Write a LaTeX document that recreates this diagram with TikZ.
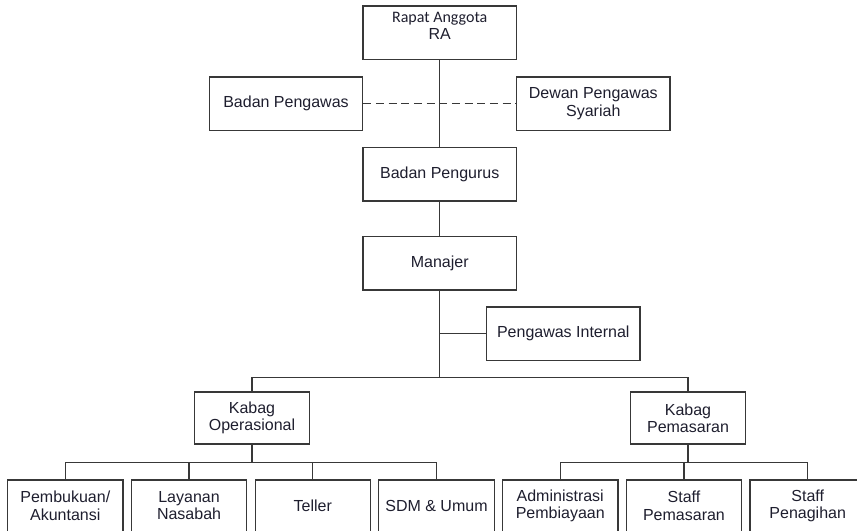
\documentclass[tikz,border=0pt]{standalone}
\usepackage{fontspec}
\setmainfont{Liberation Sans}
\newfontfamily\carlitofont{Carlito}
\usetikzlibrary{positioning}
\definecolor{linegray}{HTML}{383838}
\definecolor{textdark}{HTML}{1E1E2E}

\begin{document}
\begin{tikzpicture}[x=0.75pt,y=-0.75pt,
		box/.style={draw=linegray, line width=0.9pt, inner sep=0pt, align=center, text=textdark,
			minimum width=115pt, minimum height=40pt, font=\fontsize{12}{14}\selectfont},
		unit/.style={box, minimum width=86.5pt, minimum height=39pt},
		link/.style={draw=linegray, line width=0.9pt}]
		\useasboundingbox (0,0) rectangle (857,531);
		\clip (0,0) rectangle (857,531);
		\node[box] (ra) at (439.7,32.7) {{\carlitofont Rapat Anggota}\\[-1.5pt]RA\\[-4pt]\mbox{}};
		\node[box] (bpw) at (286,103.7) {Badan Pengawas};
		\node[box] (dps) at (593.3,103.7) {Dewan Pengawas\\[-1pt]Syariah};
		\node[box] (bpg) at (439.7,174.3) {Badan Pengurus};
		\node[box] (mgr) at (439.7,263.3) {Manajer};
		\node[box] (pi) at (563.3,333.7) {Pengawas Internal};
		\node[unit] (ko) at (252,418) {Kabag\\[-1pt]Operasional};
		\node[unit] (kp) at (688,418) {Kabag\\[-1pt]Pemasaran};
		\node[unit, minimum height=38.5pt] (pa) at (65.3,505.7) {Pembukuan/\\[-1pt]Akuntansi};
		\node[unit, minimum height=38.5pt, right=5.4pt of pa] (ln) {Layanan\\[-1pt]Nasabah};
		\node[unit, minimum height=38.5pt, right=5.4pt of ln] (tl) {Teller};
		\node[unit, minimum height=38.5pt, right=5.4pt of tl] (sdm) {SDM \& Umum};
		\node[unit, minimum height=38.5pt, right=5.4pt of sdm] (ap) {Administrasi\\[-1pt]Pembiayaan};
		\node[unit, minimum height=38.5pt, right=5.4pt of ap] (sp) {Staff\\[-1pt]Pemasaran};
		\node[unit, minimum height=38.5pt, right=5.4pt of sp] (sg) {Staff\\[-1pt]Penagihan};
		\coordinate (mainbus) at (0,377.3);
		\coordinate (opsbus) at (0,462.7);
		\draw[link, dash pattern=on 6pt off 3.5pt] (bpw.east) -- (dps.west);
		\draw[link] (ra.south) -- (bpg.north);
		\draw[link] (bpg.south) -- (mgr.north);
		\draw[link] (mgr.south) -- (mgr.south |- mainbus);
		\draw[link] (pi.west) -- (pi.west -| mgr.south);
		\draw[link] (ko.north) |- (kp.north |- mainbus) -- (kp.north);
		\draw[link] (ko.south) -- (ko.south |- opsbus);
		\draw[link] (pa.north) |- (sdm.north |- opsbus) -- (sdm.north);
		\foreach \n in {ln,tl}
			\draw[link] (\n.north) -- (\n.north |- opsbus);
		\draw[link] (kp.south) -- (kp.south |- opsbus);
		\draw[link] (ap.north) |- (sg.north |- opsbus) -- (sg.north);
		\draw[link] (sp.north) -- (sp.north |- opsbus);
	\end{tikzpicture}
\end{document}
